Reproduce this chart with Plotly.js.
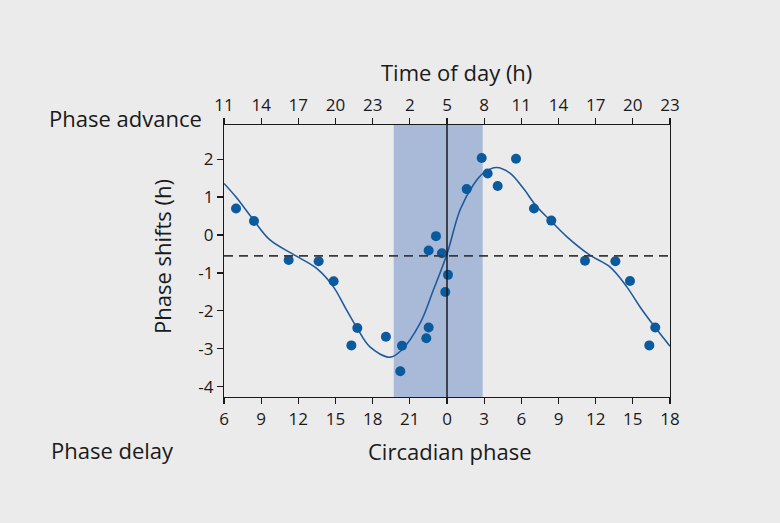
<!DOCTYPE html>
<html>
<head>
<meta charset="utf-8">
<script src="https://cdn.plot.ly/plotly-3.0.1.min.js"></script>
<style>html,body{margin:0;padding:0;background:#ebebeb;}#chart{width:780px;height:523px;}</style>
</head>
<body>
<div id="chart"></div>
<script>
// Hours along the axis (6 = circadian phase 6; 24 = phase 0; 42 = phase 18)
const pointX = [6.97, 8.42, 11.22, 13.64, 14.85, 16.28, 16.76, 19.07, 20.23, 20.37, 22.33, 22.52, 22.52, 23.11, 23.59, 23.86, 24.08,
                25.59, 26.80, 27.28, 28.09, 29.57, 31.02, 32.42, 35.14, 37.59, 38.77, 40.33, 40.81];
const pointY = [0.70, 0.37, -0.66, -0.69, -1.22, -2.91, -2.45, -2.68, -3.59, -2.92, -2.72, -2.44, -0.41, -0.03, -0.48, -1.50, -1.05,
                1.21, 2.03, 1.62, 1.29, 2.01, 0.70, 0.38, -0.68, -0.69, -1.21, -2.91, -2.44];
const curveX = [6, 6.97, 8.37, 9.71, 11.81, 13.48, 14.82, 15.9, 16.76, 17.78, 19.4, 20.34, 21.82, 22.9, 24.0, 25.05, 26.12, 26.93,
                28.0, 29.08, 30.16, 31.24, 32.45, 33.66, 35.54, 37.15, 38.5, 39.57, 40.81, 42];
const curveY = [1.36, 1.0, 0.40, -0.13, -0.55, -0.88, -1.36, -1.98, -2.46, -2.95, -3.22, -3.03, -2.33, -1.45, -0.50, 0.66, 1.32, 1.63,
                1.78, 1.63, 1.23, 0.75, 0.35, -0.04, -0.53, -0.84, -1.36, -1.89, -2.44, -2.93];
const tickPos = [6, 9, 12, 15, 18, 21, 24, 27, 30, 33, 36, 39, 42];
const phaseLabels = ["6", "9", "12", "15", "18", "21", "0", "3", "6", "9", "12", "15", "18"];
const timeLabels = ["11", "14", "17", "20", "23", "2", "5", "8", "11", "14", "17", "20", "23"];
const yTicks = [2, 1, 0, -1, -2, -3, -4];
const yLabels = ["2", "1", "0", "-1", "-2", "-3", "-4"];
const bandStart = 19.7, bandEnd = 26.88;
const referenceShift = -0.55;

const font = "Open Sans, DejaVu Sans, sans-serif";
const ink = "#1a1a1a";
const tickSize = 17, titleSize = 22;

const traces = [
  {x: curveX, y: curveY, type: "scatter", mode: "lines",
   line: {color: "#1f5b9c", width: 1.6, shape: "spline", smoothing: 1.0}, hoverinfo: "skip"},
  {x: pointX, y: pointY, type: "scatter", mode: "markers",
   marker: {color: "#0b5a9e", size: 10}},
  {x: [6, 42], y: [0, 0], xaxis: "x2", type: "scatter", mode: "markers",
   marker: {opacity: 0}, hoverinfo: "skip"}
];

const axisCommon = {
  range: [6, 42], tickmode: "array", tickvals: tickPos, showgrid: false, zeroline: false,
  showline: true, linecolor: ink, linewidth: 1.2, ticks: "outside", ticklen: 6, tickwidth: 1.2,
  tickcolor: ink, tickfont: {family: font, size: tickSize, color: ink}
};

const layout = {
  width: 780, height: 523,
  paper_bgcolor: "#ebebeb", plot_bgcolor: "#ebebeb",
  margin: {l: 224, r: 110, t: 125, b: 126},
  showlegend: false,
  xaxis: Object.assign({}, axisCommon, {ticktext: phaseLabels}),
  xaxis2: Object.assign({}, axisCommon, {ticktext: timeLabels, overlaying: "x", side: "top", anchor: "y"}),
  yaxis: {range: [-4.27, 2.9], tickmode: "array", tickvals: yTicks, ticktext: yLabels,
          showgrid: false, zeroline: false, showline: true, mirror: true, linecolor: ink, linewidth: 1.2,
          ticks: "outside", ticklen: 6, tickwidth: 1.2, tickcolor: ink,
          tickfont: {family: font, size: tickSize, color: ink}},
  shapes: [
    {type: "rect", xref: "x", yref: "paper", x0: bandStart, x1: bandEnd, y0: 0, y1: 1,
     fillcolor: "#a9bad9", line: {width: 0}, layer: "below"},
    {type: "line", xref: "x", yref: "paper", x0: 24, x1: 24, y0: 0, y1: 1,
     line: {color: "#1a1a1a", width: 1.5}},
    {type: "line", xref: "paper", yref: "y", x0: 0, x1: 1, y0: referenceShift, y1: referenceShift,
     line: {color: "#3a3a3a", width: 1.6, dash: "9px,6px"}}
  ],
  annotations: [
    {text: "Time of day (h)", xref: "paper", yref: "paper", x: 0.522, y: 1.0, yshift: 53,
     showarrow: false, font: {family: font, size: titleSize, color: ink}, xanchor: "center", yanchor: "middle"},
    {text: "Circadian phase", xref: "paper", yref: "paper", x: 0.507, y: 0, yshift: -54,
     showarrow: false, font: {family: font, size: titleSize, color: ink}, xanchor: "center", yanchor: "middle"},
    {text: "Phase advance", xref: "paper", yref: "paper", x: 0, xshift: -99, y: 1.0, yshift: 7,
     showarrow: false, font: {family: font, size: titleSize, color: ink}, xanchor: "center", yanchor: "middle"},
    {text: "Phase delay", xref: "paper", yref: "paper", x: 0, xshift: -112, y: 0, yshift: -53,
     showarrow: false, font: {family: font, size: titleSize, color: ink}, xanchor: "center", yanchor: "middle"},
    {text: "Phase shifts (h)", xref: "paper", yref: "paper", x: 0, xshift: -62, y: 0.5, yshift: 4,
     textangle: -90, showarrow: false, font: {family: font, size: titleSize, color: ink}, xanchor: "center", yanchor: "middle"}
  ]
};

Plotly.newPlot("chart", traces, layout, {staticPlot: true, displayModeBar: false});
</script>
</body>
</html>
